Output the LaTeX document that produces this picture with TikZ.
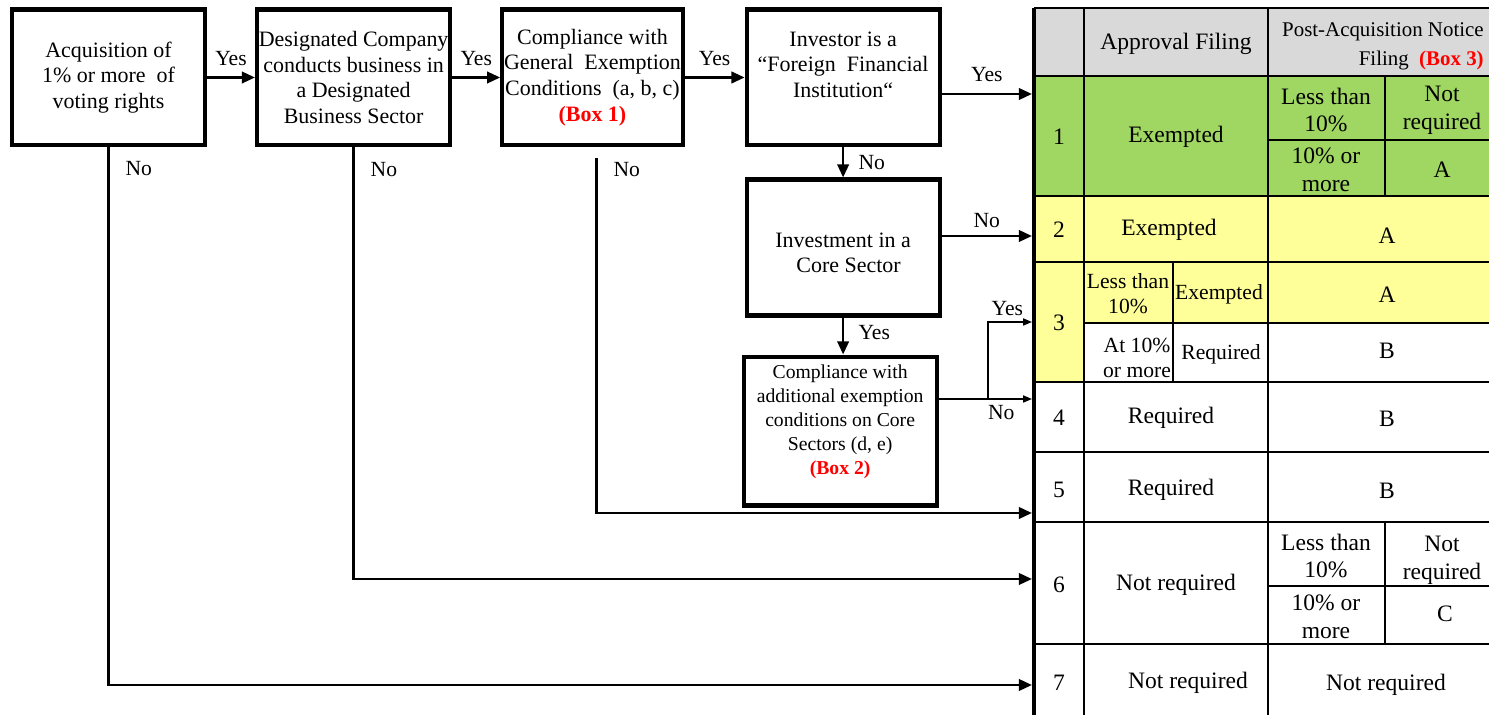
\documentclass[tikz,border=0pt]{standalone}
\usepackage{fontspec}
\setmainfont{Liberation Serif}
\usepackage{tikz}
\usetikzlibrary{arrows.meta,positioning}

\definecolor{cellgreen}{RGB}{160,214,98}
\definecolor{cellyellow}{RGB}{255,255,153}
\definecolor{cellgray}{RGB}{217,217,217}

\begin{document}
\begin{tikzpicture}[->,>={Triangle[length=7.5pt,width=6.5pt]},x=0.02cm,y=-0.02cm,line width=1.5pt,
                    box/.style={draw,-,line width=2.3pt,align=center,inner sep=1pt,
                      minimum width=3.86cm,minimum height=2.72cm,
                      font=\fontsize{12.5}{14.7}\selectfont},
                    lbl/.style={font=\fontsize{12.3}{14}\selectfont,inner sep=3pt},
                    cell/.style={align=center,inner sep=0pt,font=\fontsize{13.4}{15.9}\selectfont},
                    small/.style={align=center,inner sep=0pt,font=\fontsize{12.3}{14.2}\selectfont},
                    grid/.style={-,line width=1.4pt},
                    thinarrow/.style={line width=0.8pt,-{Triangle[length=5pt,width=4pt]}}]
  \useasboundingbox (0,0) rectangle (1489,715);

  \node[box]                 (acq) at (108.5,77.5) {Acquisition of\\1\% or more\ \ of\\voting rights};
  \node[box]                 (dsg) [right=0.96cm of acq] {Designated Company\\conducts business in\\a Designated\\Business Sector};
  \node[box,minimum width=3.6cm] (gen) [right=0.96cm of dsg] {Compliance with\\General\ \ Exemption\\Conditions\ \ (a, b, c)\\\textcolor{red}{\textbf{(Box 1)}}};
  \node[box]                 (ffi) [right=1.2cm of gen] {Investor is a\\“Foreign\ \ Financial\\Institution“\\\mbox{}};
  \node[box,text height=29pt] (core) [below=0.6cm of ffi] {Investment in a\\\ \ Core Sector};
  \node[box,minimum height=2.98cm,text depth=13pt,font=\fontsize{11.2}{13.6}\selectfont]
                             (add) [below=0.74cm of core,xshift=-0.06cm] {Compliance with\\additional exemption\\conditions on Core\\Sectors (d, e)\\\textcolor{red}{\textbf{(Box 2)}}};

  \coordinate (in1) at (1032,94);
  \coordinate (in2) at (1032,236);
  \coordinate (in3) at (1032,322);
  \coordinate (in4) at (1032,399);
  \coordinate (in5) at (1032,513);
  \coordinate (in6) at (1032,579);
  \coordinate (in7) at (1032,685);
  \coordinate (fork) at (988,399);

  \begin{scope}[-]
    \fill[cellgray] (1034,8) rectangle (1489,76);
    \fill[cellgreen] (1034,76) rectangle (1489,196);
    \fill[cellyellow] (1034,196) rectangle (1489,323);
    \fill[cellyellow] (1034,323) rectangle (1084,382);
    \foreach \y in {8,76,196,262,382,452,522,644}
      \draw[grid] (1034,\y) -- (1489,\y);
    \draw[grid] (1268,140) -- (1489,140);
    \draw[grid] (1084,323) -- (1489,323);
    \draw[grid] (1268,586) -- (1489,586);
    \foreach \x in {1084,1268}
      \draw[grid] (\x,8) -- (\x,715);
    \draw[grid] (1385,76) -- (1385,196);
    \draw[grid] (1385,522) -- (1385,644);
    \draw[grid] (1173,262) -- (1173,382);
    \draw[line width=2.4pt] (1034,8) -- (1034,715);
  \end{scope}

  \path (acq) edge node[lbl,above=3pt] {Yes} (dsg)
        (dsg) edge node[lbl,above=3pt] {Yes} (gen)
        (gen) edge node[lbl,above=3pt] {Yes} (ffi)
        (ffi.east |- in1) edge node[lbl,above=3pt] {Yes} (in1)
        (ffi) edge node[lbl,right=5pt] {No} (core)
        (core.east |- in2) edge node[lbl,above=1pt] {No} (in2)
        (core.south) edge node[lbl,right=5pt,pos=0.4] {Yes} (core.south |- add.north);

  \draw[-] (add.east |- in4) -- (fork);
  \draw[thinarrow] (fork) |- node[lbl,above,pos=0.72] {Yes} (in3);
  \draw[thinarrow] (fork) -- node[lbl,below,pos=0.3] {No} (in4);

  \draw (acq) |- node[lbl,right=6pt,pos=0.02] {No} (in7);
  \draw (dsg) |- node[lbl,right=6pt,pos=0.025] {No} (in6);
  \draw ([xshift=0.08cm,yshift=-0.22cm]gen.south) |- node[lbl,right=6pt,pos=0.015] {No} (in5);

  % table contents
  \node[cell] (hAF) at (1176,44) {Approval Filing};
  \node[cell,font=\fontsize{11.9}{16.5}\selectfont,align=right,anchor=east] (hPA) at (1485,46) {Post-Acquisition Notice\\Filing\ \ \textcolor{red}{\textbf{(Box 3)}}};
  \foreach \n/\y in {1/137,2/230,3/323,4/418,5/490,6/585,7/683}
    \node[cell] (num\n) at (1059,\y) {\n};

  \node[cell] (ex1) at (1176,137) {Exempted};
  \node[cell] (lt1) at (1326,110) {Less than\\10\%};
  \node[cell] (nr1) at (1442,110) {Not\\required};
  \node[cell] (mo1) at (1326,170) {10\% or\\more};
  \node[cell] (pa1) at (1442,170) {A};

  \node[cell] (ex2) at (1169,230) {Exempted};
  \node[cell] (pa2) at (1387,236) {A};

  \node[small] (lt3) at (1128,294) {Less than\\10\%};
  \node[small] (ex3) at (1219,294) {Exempted};
  \node[cell]  (pa3) at (1387,295) {A};
  \node[small] (mo3) at (1137,358) {At 10\%\\or more};
  \node[small] (rq3) at (1221,354) {Required};
  \node[cell]  (pb3) at (1387,351) {B};

  \node[cell] (rq4) at (1171,418) {Required};
  \node[cell] (pb4) at (1387,419) {B};

  \node[cell] (rq5) at (1171,490) {Required};
  \node[cell] (pb5) at (1387,491) {B};

  \node[cell] (nr6) at (1176,585) {Not required};
  \node[cell] (lt6) at (1326,556) {Less than\\10\%};
  \node[cell] (pn6) at (1442,560) {Not\\required};
  \node[cell] (mo6) at (1326,617) {10\% or\\more};
  \node[cell] (pc6) at (1445,614) {C};

  \node[cell] (nr7) at (1188,683) {Not required};
  \node[cell] (pn7) at (1386,685) {Not required};
\end{tikzpicture}
\end{document}
